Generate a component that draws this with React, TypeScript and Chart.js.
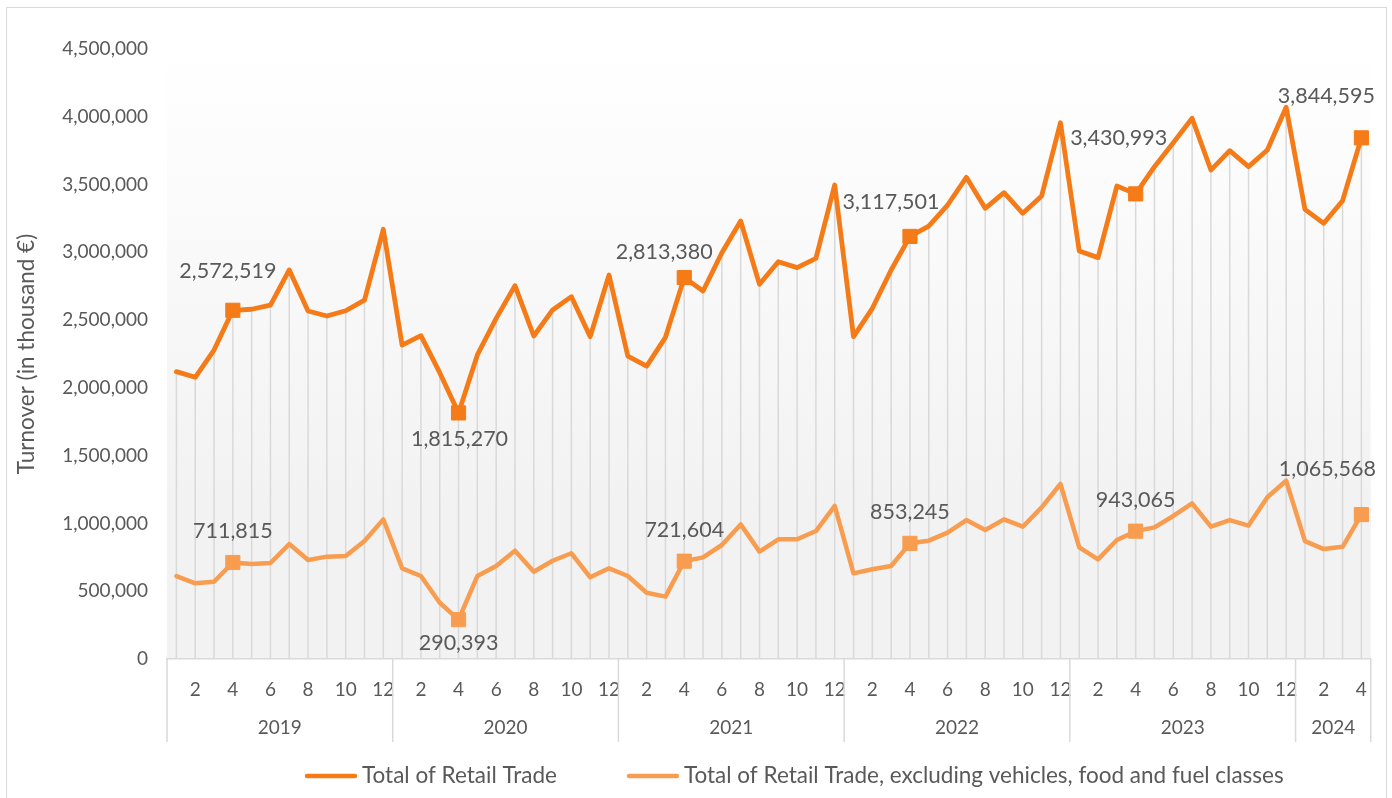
import React, { useEffect, useRef } from "react";
import { Chart, registerables } from "chart.js";

Chart.register(...registerables);

const YEARS = ["2019", "2020", "2021", "2022", "2023", "2024"];
const MONTHS_PER_YEAR = [12, 12, 12, 12, 12, 4];

const TOTAL_RETAIL = [
  2120000, 2078000, 2279000, 2572519, 2580000, 2611000, 2870000, 2567000, 2530000, 2569000, 2648000, 3170000,
  2316000, 2385000, 2112000, 1815270, 2243000, 2513000, 2754000, 2383000, 2575000, 2673000, 2378000, 2833000,
  2235000, 2161000, 2373000, 2813380, 2715000, 2997000, 3231000, 2764000, 2931000, 2887000, 2956000, 3497000,
  2378000, 2587000, 2870000, 3117501, 3194000, 3349000, 3553000, 3325000, 3440000, 3288000, 3416000, 3956000,
  3010000, 2961000, 3489000, 3430993, 3632000, 3809000, 3989000, 3607000, 3750000, 3632000, 3755000, 4070000,
  3317000, 3214000, 3381000, 3844595,
];

const TOTAL_EXCLUDING = [
  612000, 558000, 570000, 711815, 701000, 708000, 848000, 730000, 755000, 760000, 870000, 1030000,
  669000, 612000, 415000, 290393, 612000, 686000, 799000, 644000, 725000, 780000, 603000, 669000,
  612000, 489000, 460000, 721604, 750000, 841000, 993000, 792000, 883000, 883000, 944000, 1129000,
  632000, 662000, 686000, 853245, 873000, 932000, 1025000, 952000, 1030000, 976000, 1119000, 1291000,
  824000, 735000, 878000, 943065, 971000, 1055000, 1148000, 976000, 1025000, 984000, 1193000, 1315000,
  870000, 811000, 828000, 1065568,
];

const SERIES_NAMES = [
  "Total of Retail Trade",
  "Total of Retail Trade, excluding vehicles, food and fuel classes",
];

const Y_TICKS = [0, 500000, 1000000, 1500000, 2000000, 2500000, 3000000, 3500000, 4000000, 4500000];
const Y_TITLE = "Turnover (in thousand €)";

// Highlighted month (April) of each year gets a marker and a value label
const HIGHLIGHT_MONTH = 4;

// Build categories
const CATEGORY_YEAR: string[] = [];
const CATEGORY_MONTH: number[] = [];
YEARS.forEach((y, yi) => {
  for (let m = 1; m <= MONTHS_PER_YEAR[yi]; m++) {
    CATEGORY_YEAR.push(y);
    CATEGORY_MONTH.push(m);
  }
});
const CATEGORIES = CATEGORY_YEAR.map((y, i) => `${y}-${CATEGORY_MONTH[i]}`);

// label placement (pixel offsets, styling only)
const LABEL_OFFSETS = [
  [[-5, -39], [1, 26], [-20, -26], [-19, -34], [-17, -56], [-35, -42]],
  [[0, -31], [0, 23], [0, -31], [0, -31], [0, -31], [-34, -45]],
];

const COLORS = ["#F47B17", "#F89D50"];
const TEXT = "#595959";
const FONT = "Lato";

const fmt = (v: number) => v.toLocaleString("en-US");

export default function App() {
  const ref = useRef<HTMLCanvasElement | null>(null);

  useEffect(() => {
    if (!ref.current) return;
    const isHL = (i: number) => CATEGORY_MONTH[i] === HIGHLIGHT_MONTH;

    const bgPlugin = {
      id: "bg",
      beforeDraw(chart: any) {
        const { ctx, chartArea } = chart;
        const g = ctx.createLinearGradient(0, chartArea.top, 0, chartArea.bottom);
        g.addColorStop(0, "#ffffff");
        g.addColorStop(0.75, "#f2f2f2");
        g.addColorStop(1, "#f2f2f2");
        ctx.save();
        ctx.fillStyle = g;
        ctx.fillRect(chartArea.left, chartArea.top - 10, chartArea.right - chartArea.left, chartArea.bottom - chartArea.top + 10);
        ctx.restore();
      },
      beforeDatasetsDraw(chart: any) {
        const { ctx, chartArea } = chart;
        const meta = chart.getDatasetMeta(0);
        ctx.save();
        ctx.strokeStyle = "#d9d9d9";
        ctx.lineWidth = 1.5;
        meta.data.forEach((p: any) => {
          ctx.beginPath();
          ctx.moveTo(p.x, p.y);
          ctx.lineTo(p.x, chartArea.bottom);
          ctx.stroke();
        });
        ctx.restore();
      },
      afterDraw(chart: any) {
        const { ctx, chartArea } = chart;
        const xs = chart.scales.x;
        const w = (xs.getPixelForValue(1) - xs.getPixelForValue(0));
        ctx.save();
        // year groups
        let idx = 0;
        ctx.strokeStyle = "#d9d9d9";
        ctx.lineWidth = 1.5;
        ctx.fillStyle = TEXT;
        ctx.font = `19px ${FONT}`;
        ctx.textAlign = "center";
        ctx.textBaseline = "middle";
        const bottom = chartArea.bottom;
        const drawSep = (x: number) => {
          ctx.beginPath();
          ctx.moveTo(x, bottom);
          ctx.lineTo(x, bottom + 83);
          ctx.stroke();
        };
        YEARS.forEach((y, yi) => {
          const n = MONTHS_PER_YEAR[yi];
          const x0 = xs.getPixelForValue(idx) - w / 2;
          const x1 = xs.getPixelForValue(idx + n - 1) + w / 2;
          drawSep(x0);
          if (yi === YEARS.length - 1) drawSep(x1);
          ctx.fillText(y, (x0 + x1) / 2, bottom + 69);
          idx += n;
        });
        // value labels
        ctx.font = `21.5px ${FONT}`;
        [TOTAL_RETAIL, TOTAL_EXCLUDING].forEach((data, di) => {
          const meta = chart.getDatasetMeta(di);
          let k = 0;
          data.forEach((v, i) => {
            if (!isHL(i)) return;
            const p = meta.data[i];
            const [dx, dy] = LABEL_OFFSETS[di][k] || [0, -30];
            ctx.fillText(fmt(v), p.x + dx, p.y + dy);
            k++;
          });
        });
        // legend
        ctx.font = `22.5px ${FONT}`;
        ctx.textAlign = "left";
        let lx = 298;
        const ly = 768;
        SERIES_NAMES.forEach((name, i) => {
          ctx.strokeStyle = COLORS[i];
          ctx.lineWidth = 4.5;
          ctx.lineCap = "round";
          ctx.beginPath();
          ctx.moveTo(lx + 2, ly);
          ctx.lineTo(lx + 50, ly);
          ctx.stroke();
          ctx.fillText(name, lx + 57, ly);
          lx += 57 + ctx.measureText(name).width + 70;
        });
        ctx.restore();
      },
    };

    const ds = (data: number[], i: number, width: number) => ({
      label: SERIES_NAMES[i],
      data,
      borderColor: COLORS[i],
      backgroundColor: COLORS[i],
      borderWidth: width,
      pointStyle: "rect" as const,
      pointRadius: data.map((_, j) => (isHL(j) ? 10 : 0)),
      pointHoverRadius: data.map((_, j) => (isHL(j) ? 10 : 0)),
      pointBorderWidth: 1,
      pointBorderColor: COLORS[i],
      pointBackgroundColor: COLORS[i],
      tension: 0,
      fill: false,
      borderJoinStyle: "round" as const,
      borderCapStyle: "round" as const,
    });

    const chart = new Chart(ref.current, {
      type: "line",
      data: {
        labels: CATEGORIES,
        datasets: [ds(TOTAL_RETAIL, 0, 4.8), ds(TOTAL_EXCLUDING, 1, 4.5)],
      },
      plugins: [bgPlugin],
      options: {
        animation: false,
        responsive: false,
        events: [],
        layout: { padding: { top: 41, right: 14, left: 0, bottom: 0 } },
        plugins: { legend: { display: false }, tooltip: { enabled: false } },
        scales: {
          x: {
            type: "category",
            offset: true,
            grid: { display: false, drawTicks: false },
            border: { display: true, color: "#d9d9d9", width: 1.5 },
            ticks: {
              autoSkip: false,
              maxRotation: 0,
              minRotation: 0,
              padding: 19,
              color: TEXT,
              font: { family: FONT, size: 19 },
              callback: (_v: any, i: number) => (CATEGORY_MONTH[i] % 2 === 0 ? String(CATEGORY_MONTH[i]) : ""),
            },
            afterFit: (s: any) => {
              s.height = 139;
            },
          },
          y: {
            min: 0,
            max: 4500000,
            grid: { display: false, drawTicks: false },
            border: { display: false },
            afterBuildTicks: (s: any) => {
              s.ticks = Y_TICKS.map((v) => ({ value: v }));
            },
            ticks: {
              padding: 19,
              color: TEXT,
              font: { family: FONT, size: 19 },
              callback: (v: any) => fmt(Number(v)),
            },
            title: {
              display: true,
              text: Y_TITLE,
              color: TEXT,
              font: { family: FONT, size: 22.5 },
              padding: { top: 6.5, bottom: 0 },
            },
            afterFit: (s: any) => {
              s.width = 160;
            },
          },
        },
      },
    });
    return () => chart.destroy();
  }, []);

  return (
    <div
      style={{
        position: "fixed",
        left: 6,
        top: 7,
        width: 1381,
        height: 800,
        boxSizing: "border-box",
        border: "1px solid #d9d9d9",
        background: "#ffffff",
        overflow: "hidden",
      }}
    >
      <canvas ref={ref} width={1379} height={790} style={{ display: "block" }} />
    </div>
  );
}
